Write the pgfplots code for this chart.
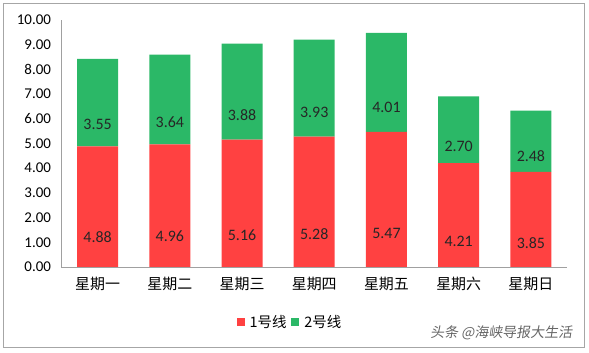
\documentclass[border=0pt]{standalone}
\usepackage{pgfplots}
\usepackage{pgfplotstable}
\pgfplotsset{compat=1.18}
\usepackage{fontspec}
\setmainfont{Carlito}
\newfontfamily\cjk{Noto Sans CJK SC}
\definecolor{myred}{HTML}{FF4141}
\definecolor{mygreen}{HTML}{2BB867}
\definecolor{framegray}{HTML}{A6A6A6}
\definecolor{axisgray}{HTML}{A0A0A0}
\pgfplotstableread{
x a b
0 4.88 3.55
1 4.96 3.64
2 5.16 3.88
3 5.28 3.93
4 5.47 4.01
5 4.21 2.70
6 3.85 2.48
}\datatable
\begin{document}
\begin{tikzpicture}
\useasboundingbox (0,0) rectangle (589bp,353bp);
\draw[framegray, line width=0.8bp] (3bp,6bp) rectangle (584bp,350bp);
\begin{axis}[
  at={(61.5bp,86bp)}, anchor=south west,
  scale only axis, width=505.5bp, height=247bp,
  ybar stacked, bar width=41bp,
  xmin=-0.5, xmax=6.5, ymin=0, ymax=10,
  ytick={0,1,...,10},
  xtick=data,
  xticklabels={星期一,星期二,星期三,星期四,星期五,星期六,星期日},
  axis x line*=bottom, axis y line*=left,
  axis line style={axisgray, line width=0.8bp, -},
  major tick length=0pt,
  /pgf/number format/.cd, fixed, fixed zerofill, precision=2, assume math mode=true,
  /pgfplots/.cd,
  yticklabel style={font=\fontsize{15}{17}\selectfont, xshift=-7bp},
  xticklabel style={font=\cjk\fontsize{15}{17}\selectfont, yshift=-7bp},
  legend style={at={(0.452,-0.223)}, anchor=center, legend columns=-1, draw=none,
    font=\cjk\fontsize{14.5}{16}\selectfont,
    /tikz/every odd column/.append style={column sep=3bp},
    /tikz/every even column/.append style={column sep=3bp}},
  legend image code/.code={\fill[#1] (0bp,-4bp) rectangle (8bp,4bp);},
  every node near coord/.append style={font=\fontsize{16}{18}\selectfont, text=black!85},
]
\addplot[fill=myred, draw=none, nodes near coords,
  point meta=explicit,
  visualization depends on={rawy \as \myy},
  every node near coord/.append style={anchor=center, yshift=-\myy*6.175bp}]
  table[x=x,y=a,meta=a]{\datatable};
\addplot[fill=mygreen, draw=none, nodes near coords,
  point meta=explicit,
  visualization depends on={rawy \as \myy},
  every node near coord/.append style={anchor=center, yshift=-\myy*6.175bp}]
  table[x=x,y=b,meta=b]{\datatable};
\legend{1号线,2号线}
\end{axis}
\node[anchor=center, text=black!60, font=\cjk\fontsize{14}{16}\selectfont, xslant=0.15] at (502bp,20bp) {头条 @海峡导报大生活};
\end{tikzpicture}
\end{document}
